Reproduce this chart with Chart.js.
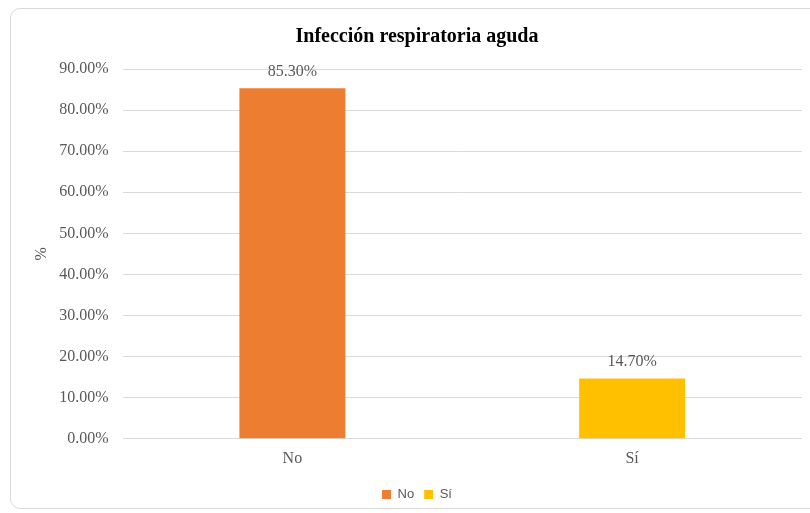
<!DOCTYPE html>
<html>
<head>
<meta charset="utf-8">
<script src="https://cdn.jsdelivr.net/npm/chart.js@4"></script>
<style>
  html, body { margin: 0; padding: 0; background: #ffffff; }
  body { width: 810px; height: 513px; position: relative; overflow: hidden; }
  #card { position: absolute; left: 10px; top: 8px; width: 812px; height: 501px;
          border: 1px solid #d9d9d9; border-radius: 10px; box-sizing: border-box; background: #fff; }
  #wrap { position: absolute; left: 0; top: 0; width: 810px; height: 513px; }
</style>
</head>
<body>
<div id="card"></div>
<div id="wrap"><canvas id="c" width="810" height="513"></canvas></div>
<script>
const categories = ["No", "Sí"];
const values = [85.30, 14.70];
const barColors = ["#ED7D31", "#FFC000"];
const yTicks = [0, 10, 20, 30, 40, 50, 60, 70, 80, 90];
const chartTitle = "Infección respiratoria aguda";
const yAxisTitle = "%";

const serif = "'Liberation Serif', 'Times New Roman', serif";
const sans = "'Liberation Sans', Arial, sans-serif";

const labelPlugin = {
  id: 'valueLabels',
  afterDatasetsDraw(chart) {
    const ctx = chart.ctx;
    const meta = chart.getDatasetMeta(0);
    ctx.save();
    ctx.font = "16px " + serif;
    ctx.fillStyle = "#595959";
    ctx.textAlign = "center";
    ctx.textBaseline = "middle";
    meta.data.forEach((bar, i) => {
      ctx.fillText(values[i].toFixed(2) + "%", bar.x, bar.y - 17);
    });
    ctx.restore();
  }
};

new Chart(document.getElementById('c'), {
  type: 'bar',
  data: {
    labels: categories,
    datasets: [{
      data: values,
      backgroundColor: barColors,
      borderWidth: 0,
      categoryPercentage: 1.0,
      barPercentage: 0.312
    }]
  },
  options: {
    responsive: false,
    animation: false,
    layout: { padding: { left: 32, right: 8, top: 25, bottom: 2 } },
    plugins: {
      title: {
        display: true,
        text: chartTitle,
        color: "#000000",
        font: { family: serif, size: 20, weight: 'bold' },
        padding: { top: 0, bottom: 20 }
      },
      legend: {
        display: true,
        position: 'bottom',
        labels: {
          boxWidth: 9,
          boxHeight: 9,
          padding: 10,
          color: "#595959",
          font: { family: sans, size: 13 },
          generateLabels(chart) {
            return categories.map((c, i) => ({
              text: c,
              fillStyle: barColors[i],
              strokeStyle: barColors[i],
              lineWidth: 0,
              hidden: false,
              index: i,
              fontColor: "#595959"
            }));
          }
        },
        onClick() {}
      },
      tooltip: { enabled: false }
    },
    scales: {
      x: {
        grid: { display: false, drawTicks: false },
        border: { display: false },
        ticks: { color: "#595959", font: { family: serif, size: 16 }, padding: 10 }
      },
      y: {
        min: 0,
        max: 90,
        afterBuildTicks(axis) { axis.ticks = yTicks.map(v => ({ value: v })); },
        afterFit(axis) { axis.width -= 13; },
        grid: { color: "#d9d9d9", lineWidth: 1, drawTicks: false },
        border: { display: false },
        ticks: {
          color: "#595959",
          font: { family: serif, size: 16 },
          padding: 14,
          callback: v => v.toFixed(2) + "%"
        },
        title: {
          display: true,
          text: yAxisTitle,
          color: "#595959",
          font: { family: serif, size: 16 },
          padding: { top: 0, bottom: 7 }
        }
      }
    }
  },
  plugins: [labelPlugin]
});
</script>
</body>
</html>
